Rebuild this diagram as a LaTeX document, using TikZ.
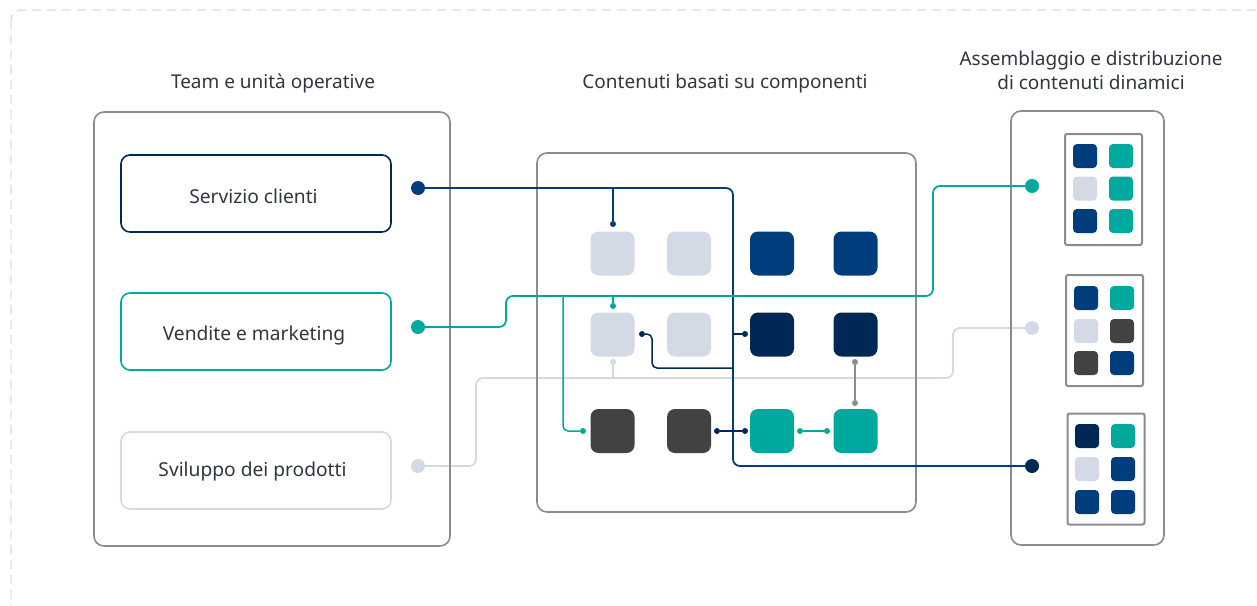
\documentclass[tikz,border=0pt]{standalone}
\usepackage{fontspec}
\setmainfont{Noto Sans}
\definecolor{navy}{HTML}{003D7D}
\definecolor{dnavy}{HTML}{002855}
\definecolor{tealc}{HTML}{00A99D}
\definecolor{lgray}{HTML}{D3DAE6}
\definecolor{dgray}{HTML}{424242}
\definecolor{pgray}{HTML}{8C8C8C}
\definecolor{txt}{HTML}{30363F}
\definecolor{dashc}{HTML}{D8DEE7}
\begin{document}
\begin{tikzpicture}[x=1pt,y=-1pt,
  panel/.style={draw=pgray,line width=1.6pt,rounded corners=10pt,inner sep=0pt},
  subpanel/.style={draw=pgray,line width=2pt,rounded corners=2pt,inner sep=0pt,minimum width=77pt,minimum height=111pt},
  teambox/.style={line width=1.6pt,rounded corners=9pt,minimum width=270pt,minimum height=77pt,inner sep=0pt},
  lbl/.style={text=txt,font=\fontsize{19.2}{22}\selectfont,inner sep=0pt,anchor=base},
  ttl/.style={text=txt,font=\fontsize{19}{24}\selectfont,align=center,inner sep=0pt},
  tile/.style={minimum size=44pt,rounded corners=8pt,inner sep=0pt},
  stile/.style={minimum size=24pt,rounded corners=4pt,inner sep=0pt},
  bigdot/.style={circle,minimum size=14pt,inner sep=0pt},
  smalldot/.style={circle,minimum size=6pt,inner sep=0pt},
  conn/.style={line width=1.8pt,rounded corners=7pt},
  thin/.style={line width=1.5pt}]
\useasboundingbox (0,0) rectangle (1257,605);
\begin{scope}
\clip (0,0) rectangle (1257,605);
\draw[dashc,line width=1.4pt,dash pattern=on 9pt off 6pt,rounded corners=10pt] (11,10) rectangle (1275,625);
\end{scope}

% titles
\node[ttl] (tl) at (273,84) {Team e unità operative};
\node[ttl] (tm) at (725,84) {Contenuti basati su componenti};
\node[ttl] (tr) at (1091,70) {Assemblaggio e distribuzione\\di contenuti dinamici};

% light connector (below panels)
\node[bigdot,fill=lgray] (d3) at (418,466) {};
\node[bigdot,fill=lgray] (e2) at (1032,328) {};
\node[smalldot,fill=lgray] (s21b) at (613,362) {};
\draw[conn,lgray] (d3) -- (476,466) -- (476,378) -- (953,378) -- (953,328) -- (e2);
\draw[thin,lgray] (613,378) -- (s21b);

% panels
\node[panel,minimum width=356pt,minimum height=434pt] (lp) at (272,329) {};
\node[panel,minimum width=379pt,minimum height=359pt] (mp) at (726.5,332.5) {};
\node[panel,minimum width=153pt,minimum height=434pt] (rp) at (1087.5,328) {};

% team boxes
\node[teambox,draw=dnavy] (b1) at (256,193.5) {};
\node[teambox,draw=tealc] (b2) at (256,331.5) {};
\node[teambox,draw=lgray] (b3) at (256,470.5) {};
\node[lbl] (l1) at (253.5,203) {Servizio clienti};
\node[lbl] (l2) at (254,340) {Vendite e marketing};
\node[lbl] (l3) at (252.5,476) {Sviluppo dei prodotti};

% tiles
\node[tile,fill=lgray] (t11) at (612.5,253.5) {};
\node[tile,fill=lgray] (t12) at (689,253.5) {};
\node[tile,fill=navy]  (t13) at (772,253.5) {};
\node[tile,fill=navy]  (t14) at (855.5,253.5) {};
\node[tile,fill=lgray] (t21) at (612.5,334.5) {};
\node[tile,fill=lgray] (t22) at (689,334.5) {};
\node[tile,fill=dnavy] (t23) at (772,334.5) {};
\node[tile,fill=dnavy] (t24) at (855.5,334.5) {};
\node[tile,fill=dgray] (t31) at (612.5,431) {};
\node[tile,fill=dgray] (t32) at (689,431) {};
\node[tile,fill=tealc] (t33) at (772,431) {};
\node[tile,fill=tealc] (t34) at (855.5,431) {};

% sub panels
\node[subpanel] (sp1) at (1103.5,189.5) {};
\node[subpanel] (sp2) at (1104.5,330.5) {};
\node[subpanel] (sp3) at (1106,469) {};
\node[stile,fill=navy]  (a11) at (1085,156) {};
\node[stile,fill=tealc] (a12) at (1121,156) {};
\node[stile,fill=lgray] (a21) at (1085,188.5) {};
\node[stile,fill=tealc] (a22) at (1121,188.5) {};
\node[stile,fill=navy]  (a31) at (1085,221) {};
\node[stile,fill=tealc] (a32) at (1121,221) {};
\node[stile,fill=navy]  (b11) at (1086,298) {};
\node[stile,fill=tealc] (b12) at (1122,298) {};
\node[stile,fill=lgray] (b21) at (1086,331) {};
\node[stile,fill=dgray] (b22) at (1122,331) {};
\node[stile,fill=dgray] (b31) at (1086,363) {};
\node[stile,fill=navy]  (b32) at (1122,363) {};
\node[stile,fill=dnavy] (c11) at (1087,436) {};
\node[stile,fill=tealc] (c12) at (1123,436) {};
\node[stile,fill=lgray] (c21) at (1087,469) {};
\node[stile,fill=navy]  (c22) at (1123,469) {};
\node[stile,fill=navy]  (c31) at (1087,502) {};
\node[stile,fill=navy]  (c32) at (1123,502) {};

% dots
\node[bigdot,fill=navy]  (d1) at (418,188) {};
\node[bigdot,fill=tealc] (d2) at (418,327) {};
\node[bigdot,fill=tealc] (e1) at (1032,186) {};
\node[bigdot,fill=dnavy] (e3) at (1032,466) {};
\node[smalldot,fill=navy]  (s11) at (613,224) {};
\node[smalldot,fill=tealc] (s21t) at (613,306) {};
\node[smalldot,fill=dnavy] (s21r) at (642,334) {};
\node[smalldot,fill=dnavy] (s23l) at (745,334) {};
\node[smalldot,fill=pgray] (s24b) at (855,362) {};
\node[smalldot,fill=pgray] (s34t) at (855,403) {};
\node[smalldot,fill=tealc] (s31l) at (583,431) {};
\node[smalldot,fill=dnavy] (s32r) at (717,431) {};
\node[smalldot,fill=dnavy] (s33l) at (745,431) {};
\node[smalldot,fill=tealc] (s33r) at (800,431) {};
\node[smalldot,fill=tealc] (s34l) at (827,431) {};

% navy connector
\draw[conn,navy] (d1) -- (733,188) -- (733,466) -- (e3);
\draw[thin,navy] (613,188) -- (s11);
\draw[thin,dnavy] (733,334) -- (s23l);
\draw[thin,dnavy,rounded corners=5pt] (s21r) -- (652,334) -- (652,368) -- (733,368);
\draw[thin,dnavy] (s32r) -- (s33l);

% teal connector
\draw[conn,tealc] (d2) -- (506,327) -- (506,296) -- (933,296) -- (933,186) -- (e1);
\draw[thin,tealc] (613,296) -- (s21t);
\draw[thin,tealc,rounded corners=5pt] (563,296) -- (563,431) -- (s31l);
\draw[thin,tealc] (s33r) -- (s34l);

% gray link
\draw[thin,pgray] (s24b) -- (s34t);
\end{tikzpicture}
\end{document}
